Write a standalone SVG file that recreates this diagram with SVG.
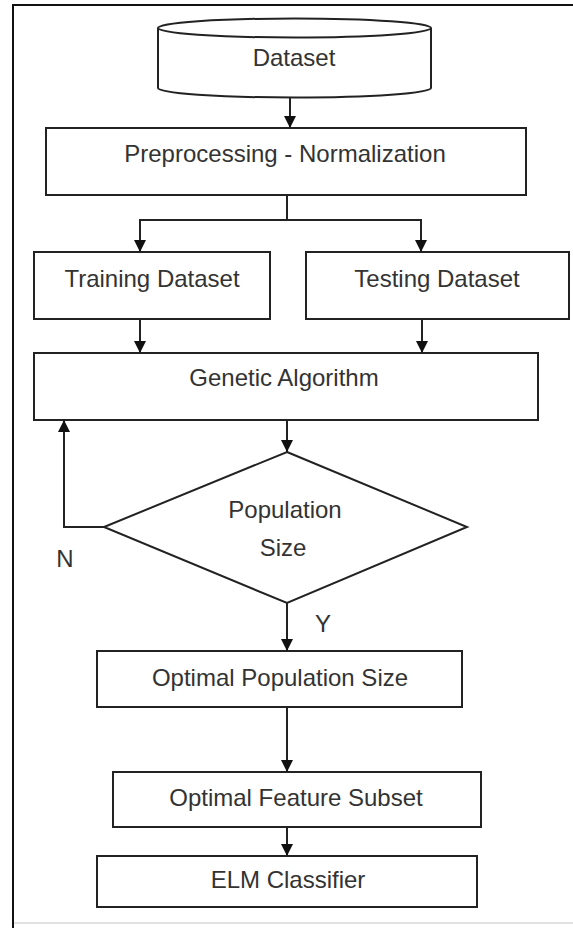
<svg xmlns="http://www.w3.org/2000/svg" width="573" height="928" viewBox="0 0 573 928">
<style>
.box{fill:#fff;stroke:#222;stroke-width:2}
.lbl{font-family:"Liberation Sans",Arial,sans-serif;font-size:24px;fill:#333;text-anchor:middle}
.con{fill:none;stroke:#222;stroke-width:2}
</style>
<defs>
<marker id="ah" viewBox="0 0 10 10" refX="10" refY="5" markerWidth="12" markerHeight="12" markerUnits="userSpaceOnUse" orient="auto">
<path d="M0,0 L10,5 L0,10 z" fill="#111"/>
</marker>
</defs>
<rect width="573" height="928" fill="#fff"/>
<polyline points="573,5 13,5 13,928" fill="none" stroke="#111" stroke-width="2"/>
<line x1="14" y1="923" x2="573" y2="923" stroke="#e2e2e2" stroke-width="2"/>
<g id="dataset">
<path class="box" d="M158,28 L158,88 A136.5,9.5 0 0 0 431,88 L431,28"/>
<ellipse class="box" cx="294.5" cy="28" rx="136.5" ry="9.5"/>
<text class="lbl" x="294" y="66">Dataset</text>
</g>
<g id="preprocessing">
<rect class="box" x="46" y="128" width="480" height="67"/>
<text class="lbl" x="285" y="162">Preprocessing - Normalization</text>
</g>
<g id="training">
<rect class="box" x="34" y="252" width="236" height="67"/>
<text class="lbl" x="152" y="287">Training Dataset</text>
</g>
<g id="testing">
<rect class="box" x="306" y="252" width="263" height="67"/>
<text class="lbl" x="437" y="287">Testing Dataset</text>
</g>
<g id="genetic">
<rect class="box" x="34" y="353" width="504" height="67"/>
<text class="lbl" x="284" y="386">Genetic Algorithm</text>
</g>
<g id="population">
<polygon class="box" points="287,452 467,527 287,603 104,527"/>
<text class="lbl" x="285" y="518">Population</text>
<text class="lbl" x="283" y="556">Size</text>
</g>
<g id="optpop">
<rect class="box" x="97" y="651" width="365" height="56"/>
<text class="lbl" x="280" y="686">Optimal Population Size</text>
</g>
<g id="optfeat">
<rect class="box" x="113" y="772" width="368" height="55"/>
<text class="lbl" x="296" y="806">Optimal Feature Subset</text>
</g>
<g id="elm">
<rect class="box" x="97" y="856" width="380" height="51"/>
<text class="lbl" x="288" y="888">ELM Classifier</text>
</g>
<g id="connectors">
<line class="con" x1="290" y1="97" x2="290" y2="128" marker-end="url(#ah)"/>
<polyline class="con" points="287,195 287,220 140,220 140,252" marker-end="url(#ah)"/>
<polyline class="con" points="287,220 421,220 421,252" marker-end="url(#ah)"/>
<line class="con" x1="140" y1="319" x2="140" y2="353" marker-end="url(#ah)"/>
<line class="con" x1="422" y1="319" x2="422" y2="353" marker-end="url(#ah)"/>
<line class="con" x1="287" y1="420" x2="287" y2="452" marker-end="url(#ah)"/>
<polyline class="con" points="104,527 64,527 64,420" marker-end="url(#ah)"/>
<line class="con" x1="287" y1="603" x2="287" y2="651" marker-end="url(#ah)"/>
<line class="con" x1="287" y1="707" x2="287" y2="772" marker-end="url(#ah)"/>
<line class="con" x1="287" y1="827" x2="287" y2="856" marker-end="url(#ah)"/>
<text class="lbl" x="65" y="567">N</text>
<text class="lbl" x="323" y="632">Y</text>
</g>
</svg>
